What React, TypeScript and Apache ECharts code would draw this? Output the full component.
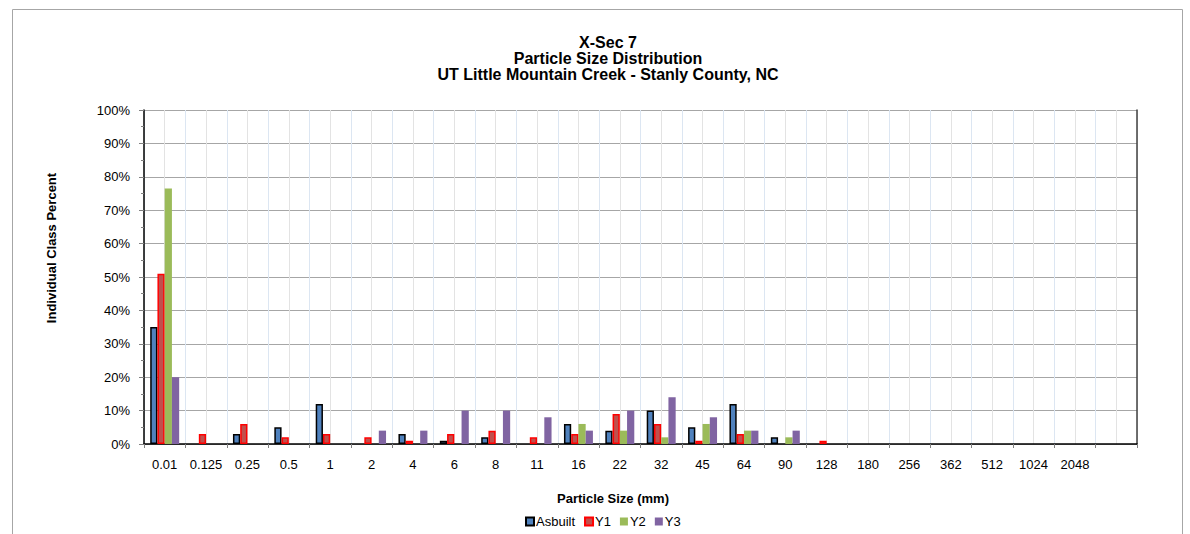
import React, { useEffect, useRef } from "react";
import * as echarts from "echarts";

const categories = ["0.01", "0.125", "0.25", "0.5", "1", "2", "4", "6", "8", "11", "16", "22", "32", "45", "64", "90", "128", "180", "256", "362", "512", "1024", "2048", ""];
const asbuilt = [35, 0, 3, 5, 12, 0, 3, 1, 2, 0, 6, 4, 10, 5, 12, 2, 0, 0, 0, 0, 0, 0, 0, 0];
const y1 = [51, 3, 6, 2, 3, 2, 1, 3, 4, 2, 3, 9, 6, 1, 3, 0, 1, 0, 0, 0, 0, 0, 0, 0];
const y2 = [76.5, 0, 0, 0, 0, 0, 0, 0, 0, 0, 6, 4, 2, 6, 4, 2, 0, 0, 0, 0, 0, 0, 0, 0];
const y3 = [20, 0, 0, 0, 0, 4, 4, 10, 10, 8, 4, 10, 14, 8, 4, 4, 0, 0, 0, 0, 0, 0, 0, 0];
const yTicks = [0, 100, 10];
const titleLines = ["X-Sec 7", "Particle Size Distribution", "UT Little Mountain Creek - Stanly County, NC"];

const FONT = "'Liberation Sans', Arial, sans-serif";

const toData = (arr: number[]) => arr.map((v) => (v === 0 ? "-" : v));

export default function App() {
  const ref = useRef<HTMLDivElement>(null);
  useEffect(() => {
    if (!ref.current) return;
    const chart = echarts.init(ref.current, undefined, { renderer: "svg" });
    const halfCats = categories.flatMap((c, i) => [c + "_a" + i, c + "_b" + i]);
    const option: any = {
      animation: false,
      backgroundColor: "#ffffff",
      textStyle: { fontFamily: FONT },
      title: [
        {
          text: titleLines.join("\n"),
          left: 603,
          top: 29,
          textAlign: "center",
          textStyle: { fontFamily: FONT, fontSize: 16, fontWeight: "bold", color: "#000", lineHeight: 16 },
        },
        {
          text: "Particle Size (mm)",
          left: 608,
          top: 487,
          textAlign: "center",
          textStyle: { fontFamily: FONT, fontSize: 13, fontWeight: "bold", color: "#000" },
        },
      ],
      graphic: [
        {
          type: "rect",
          silent: true,
          shape: { x: 12.5, y: 9.5, width: 1170, height: 600 },
          style: { fill: "none", stroke: "#a6a6a6", lineWidth: 1 },
        },
        {
          type: "text",
          x: 51,
          y: 248,
          rotation: Math.PI / 2,
          style: {
            text: "Individual Class Percent",
            fontFamily: FONT,
            fontSize: 13,
            fontWeight: "bold",
            fill: "#000",
            align: "center",
            verticalAlign: "middle",
          },
        },
      ],
      legend: {
        left: 520,
        top: 510,
        itemWidth: 8,
        itemHeight: 8,
        itemGap: 9,
        icon: "rect",
        textStyle: { fontFamily: FONT, fontSize: 13, color: "#000", padding: [0, 0, 0, -3] },
        data: ["Asbuilt", "Y1", "Y2", "Y3"],
      },
      grid: { left: 144, top: 110, right: 53, bottom: 90, containLabel: false },
      xAxis: [
        {
          type: "category",
          data: categories,
          boundaryGap: true,
          axisLine: { show: true, lineStyle: { color: "#000", width: 1.5 } },
          axisTick: { show: true, interval: 0, length: 4, lineStyle: { color: "#808080" } },
          axisLabel: { interval: 0, fontFamily: FONT, fontSize: 13, color: "#000", margin: 14 },
          splitLine: { show: true, interval: 0, lineStyle: { color: "#dce6f2", width: 1 } },
        },
        {
          type: "category",
          data: halfCats,
          boundaryGap: true,
          position: "top",
          axisLine: { show: false },
          axisTick: { show: false },
          axisLabel: { show: false },
          splitLine: {
            show: true,
            interval: (index: number) => index % 2 === 1,
            lineStyle: { color: "#e3e3e3", width: 1 },
          },
        },
      ],
      yAxis: [
        {
          type: "value",
          min: yTicks[0],
          max: yTicks[1],
          interval: yTicks[2],
          axisLine: { show: true, lineStyle: { color: "#000", width: 1.5 } },
          axisTick: { show: true, length: 5, lineStyle: { color: "#808080" } },
          minorTick: { show: true, splitNumber: 2, length: 3, lineStyle: { color: "#808080" } },
          axisLabel: { fontFamily: FONT, fontSize: 13, color: "#000", margin: 14, formatter: "{value}%" },
          splitLine: { show: true, lineStyle: { color: "#a6a6a6", width: 1 } },
        },
        {
          type: "value",
          min: yTicks[0],
          max: yTicks[1],
          interval: yTicks[2],
          position: "right",
          axisLine: { show: true, lineStyle: { color: "#404040", width: 1.5 } },
          axisTick: { show: false },
          axisLabel: { show: false },
          splitLine: { show: false },
        },
      ],
      series: [
        {
          name: "Asbuilt",
          type: "bar",
          data: toData(asbuilt),
          barGap: "0%",
          barCategoryGap: "30%",
          itemStyle: { color: "#4f81bd", borderColor: "#000000", borderWidth: 1.5 },
        },
        {
          name: "Y1",
          type: "bar",
          data: toData(y1),
          barGap: "0%",
          barCategoryGap: "30%",
          itemStyle: { color: "#c0504d", borderColor: "#ff0000", borderWidth: 1.5 },
        },
        {
          name: "Y2",
          type: "bar",
          data: toData(y2),
          barGap: "0%",
          barCategoryGap: "30%",
          itemStyle: { color: "#9bbb59" },
        },
        {
          name: "Y3",
          type: "bar",
          data: toData(y3),
          barGap: "0%",
          barCategoryGap: "30%",
          itemStyle: { color: "#8064a2" },
        },
      ],
    };
    chart.setOption(option);
    return () => chart.dispose();
  }, []);
  return (
    <div
      ref={ref}
      style={{ position: "absolute", left: 0, top: 0, width: 1190, height: 534, background: "#fff" }}
    />
  );
}
